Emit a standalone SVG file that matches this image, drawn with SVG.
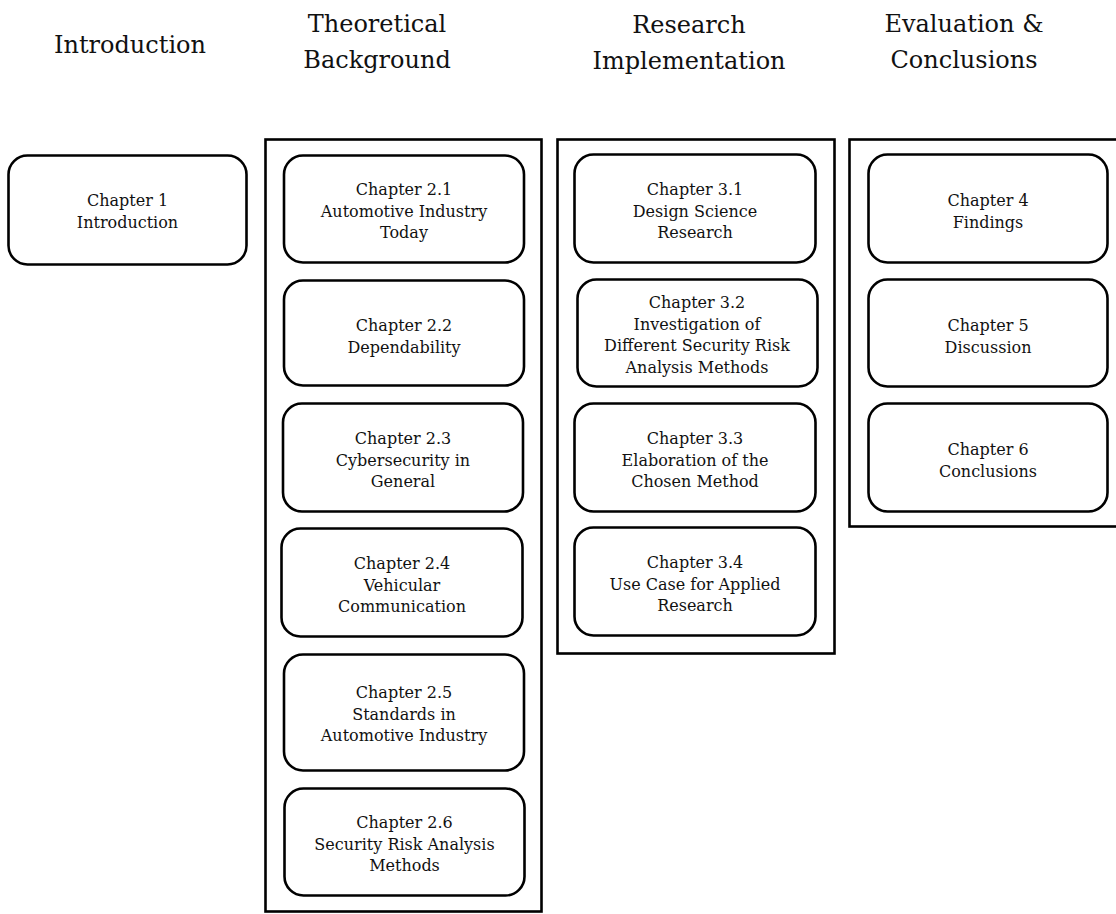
<svg xmlns="http://www.w3.org/2000/svg" width="1116" height="914" viewBox="0 0 1116 914">
  <style>
    .head { font-family: "DejaVu Serif", "Liberation Serif", serif; font-size: 24px; fill: #111; text-anchor: middle; }
    .lbl { font-family: "DejaVu Serif", "Liberation Serif", serif; font-size: 16px; fill: #111; text-anchor: middle; }
    .frame { fill: none; stroke: #000; stroke-width: 2.6; }
    .box { fill: #fff; stroke: #000; stroke-width: 2.6; }
  </style>
  <rect width="1116" height="914" fill="#fff"/>

  <!-- column headings -->
  <g id="headings">
    <text class="head" x="130" y="53">Introduction</text>
    <text class="head" x="377" y="32">Theoretical</text>
    <text class="head" x="377" y="68">Background</text>
    <text class="head" x="689" y="33">Research</text>
    <text class="head" x="689" y="69">Implementation</text>
    <text class="head" x="964" y="32">Evaluation &amp;</text>
    <text class="head" x="964" y="68">Conclusions</text>
  </g>

  <!-- grouping frames -->
  <g id="frames">
    <rect class="frame" x="265.5" y="139.5" width="276" height="772"/>
    <rect class="frame" x="557.5" y="139.5" width="277" height="514"/>
    <rect class="frame" x="849.5" y="139.5" width="278" height="387"/>
  </g>

  <g id="connectors"></g>

  <!-- chapter 1 -->
  <g id="ch1">
    <rect class="box" x="8.5" y="155.5" width="238" height="109" rx="19"/>
    <text class="lbl" x="127.5" y="206">Chapter 1</text>
    <text class="lbl" x="127.5" y="227.5">Introduction</text>
  </g>

  <!-- chapter 2 -->
  <g id="ch2-1">
    <rect class="box" x="284" y="155.5" width="240" height="107" rx="19"/>
    <text class="lbl" x="404" y="195">Chapter 2.1</text>
    <text class="lbl" x="404" y="216.5">Automotive Industry</text>
    <text class="lbl" x="404" y="238">Today</text>
  </g>
  <g id="ch2-2">
    <rect class="box" x="284" y="280.5" width="240" height="105" rx="19"/>
    <text class="lbl" x="404" y="331">Chapter 2.2</text>
    <text class="lbl" x="404" y="352.5">Dependability</text>
  </g>
  <g id="ch2-3">
    <rect class="box" x="283" y="403.5" width="240" height="108" rx="19"/>
    <text class="lbl" x="403" y="444">Chapter 2.3</text>
    <text class="lbl" x="403" y="465.5">Cybersecurity in</text>
    <text class="lbl" x="403" y="487">General</text>
  </g>
  <g id="ch2-4">
    <rect class="box" x="281.5" y="528.5" width="241" height="108" rx="19"/>
    <text class="lbl" x="402" y="569">Chapter 2.4</text>
    <text class="lbl" x="402" y="590.5">Vehicular</text>
    <text class="lbl" x="402" y="612">Communication</text>
  </g>
  <g id="ch2-5">
    <rect class="box" x="284" y="654.5" width="240" height="116" rx="19"/>
    <text class="lbl" x="404" y="698">Chapter 2.5</text>
    <text class="lbl" x="404" y="719.5">Standards in</text>
    <text class="lbl" x="404" y="741">Automotive Industry</text>
  </g>
  <g id="ch2-6">
    <rect class="box" x="284.5" y="788.5" width="240" height="107" rx="19"/>
    <text class="lbl" x="404.5" y="828">Chapter 2.6</text>
    <text class="lbl" x="404.5" y="849.5">Security Risk Analysis</text>
    <text class="lbl" x="404.5" y="871">Methods</text>
  </g>

  <!-- chapter 3 -->
  <g id="ch3-1">
    <rect class="box" x="574.5" y="154.5" width="241" height="108" rx="19"/>
    <text class="lbl" x="695" y="195">Chapter 3.1</text>
    <text class="lbl" x="695" y="216.5">Design Science</text>
    <text class="lbl" x="695" y="238">Research</text>
  </g>
  <g id="ch3-2">
    <rect class="box" x="577.5" y="279.5" width="240" height="107" rx="19"/>
    <text class="lbl" x="697" y="308">Chapter 3.2</text>
    <text class="lbl" x="697" y="329.5">Investigation of</text>
    <text class="lbl" x="697" y="351">Different Security Risk</text>
    <text class="lbl" x="697" y="372.5">Analysis Methods</text>
  </g>
  <g id="ch3-3">
    <rect class="box" x="574.5" y="403.5" width="241" height="108" rx="19"/>
    <text class="lbl" x="695" y="444">Chapter 3.3</text>
    <text class="lbl" x="695" y="465.5">Elaboration of the</text>
    <text class="lbl" x="695" y="487">Chosen Method</text>
  </g>
  <g id="ch3-4">
    <rect class="box" x="574.5" y="527.5" width="241" height="108" rx="19"/>
    <text class="lbl" x="695" y="568">Chapter 3.4</text>
    <text class="lbl" x="695" y="589.5">Use Case for Applied</text>
    <text class="lbl" x="695" y="611">Research</text>
  </g>

  <!-- chapters 4 to 6 -->
  <g id="ch4">
    <rect class="box" x="868.5" y="154.5" width="239" height="108" rx="19"/>
    <text class="lbl" x="988" y="206">Chapter 4</text>
    <text class="lbl" x="988" y="227.5">Findings</text>
  </g>
  <g id="ch5">
    <rect class="box" x="868.5" y="279.5" width="239" height="107" rx="19"/>
    <text class="lbl" x="988" y="331">Chapter 5</text>
    <text class="lbl" x="988" y="352.5">Discussion</text>
  </g>
  <g id="ch6">
    <rect class="box" x="868.5" y="403.5" width="239" height="108" rx="19"/>
    <text class="lbl" x="988" y="455">Chapter 6</text>
    <text class="lbl" x="988" y="476.5">Conclusions</text>
  </g>
</svg>
